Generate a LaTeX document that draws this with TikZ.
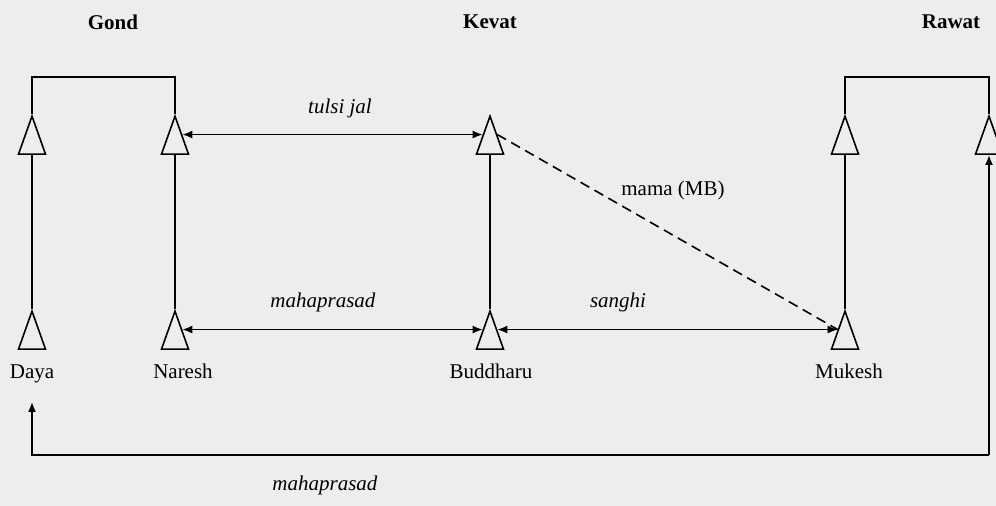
\documentclass[tikz,border=0pt]{standalone}
\usepackage{fontspec}
\setmainfont{Liberation Serif}
\usetikzlibrary{shapes.geometric, arrows.meta}
\definecolor{paper}{RGB}{237,237,237}

\begin{document}
\begin{tikzpicture}[
    x=0.5pt, y=0.5pt,
    >={Latex[length=5pt,width=4pt]},
    line width=0.8pt,
    font=\fontsize{10.5}{12}\selectfont,
    person/.style={draw, isosceles triangle, isosceles triangle stretches, rotate=90, minimum width=13.5pt, minimum height=19pt, inner sep=0pt, anchor=lower side},
    namelabel/.style={anchor=base},
    caste/.style={font=\fontsize{10.5}{12}\selectfont\bfseries},
    gift/.style={font=\fontsize{10.5}{12}\selectfont\itshape}
]
  \useasboundingbox (0,0) rectangle (996,506);
  \fill[paper] (0,0) rectangle (996,506);

  % Castas
  \node[caste] (gond)  at (113,484) {Gond};
  \node[caste] (kevat) at (490,484) {Kevat};
  \node[caste] (rawat) at (951,484) {Rawat};

  % Generacion superior
  \node[person] (daya_f)     at (32,351)  {};
  \node[person] (naresh_f)   at (175,351) {};
  \node[person] (buddharu_f) at (490,351) {};
  \node[person] (mukesh_f)   at (845,351) {};
  \node[person] (rawat_f)    at (989,351) {};

  % Generacion inferior
  \node[person] (daya)     at (32,156)  {};
  \node[person] (naresh)   at (175,156) {};
  \node[person] (buddharu) at (490,156) {};
  \node[person] (mukesh)   at (845,156) {};

  % Nombres
  \node[namelabel] (lab_daya)     at (32,127)  {Daya};
  \node[namelabel] (lab_naresh)   at (183,127) {Naresh};
  \node[namelabel] (lab_buddharu) at (491,127) {Buddharu};
  \node[namelabel] (lab_mukesh)   at (849,127) {Mukesh};

  % Lineas verticales
  \draw (daya.apex) -- (daya_f.lower side);
  \draw (naresh.apex) -- (naresh_f.lower side);
  \draw (buddharu.apex) -- (buddharu_f.lower side);
  \draw (mukesh.apex) -- (mukesh_f.lower side);

  % Hermanos
  \coordinate (top) at (0,429);
  \draw (daya_f.apex) -- (daya_f.apex |- top) -- (naresh_f.apex |- top) -- (naresh_f.apex);
  \draw (mukesh_f.apex) -- (mukesh_f.apex |- top) -- (rawat_f.apex |- top) -- (rawat_f.apex);

  % Relaciones
  \draw[<->] (naresh_f.right side) -- (buddharu_f.left side);
  \draw[<->] (naresh.right side) -- (buddharu.left side);
  \draw[<->] (buddharu.right side) -- (mukesh.left side);
  \draw[dash pattern=on 5pt off 3pt] (buddharu_f.right side) -- (mukesh.left side);

  % Vuelta por abajo
  \coordinate (loop) at (989,51);
  \coordinate (daya_end) at (32,104);
  \draw[->] (loop) -- (rawat_f.lower side);
  \draw[->] (loop) -| (daya_end);

  % Etiquetas
  \node[gift] (tulsi)  at (340,398) {tulsi jal};
  \node[gift] (maha1)  at (323,204) {mahaprasad};
  \node[gift] (sanghi) at (618,204) {sanghi};
  \node (mama) at (673,316) {mama (MB)};
  \node[gift] (maha2)  at (325,21) {mahaprasad};

\end{tikzpicture}
\end{document}
